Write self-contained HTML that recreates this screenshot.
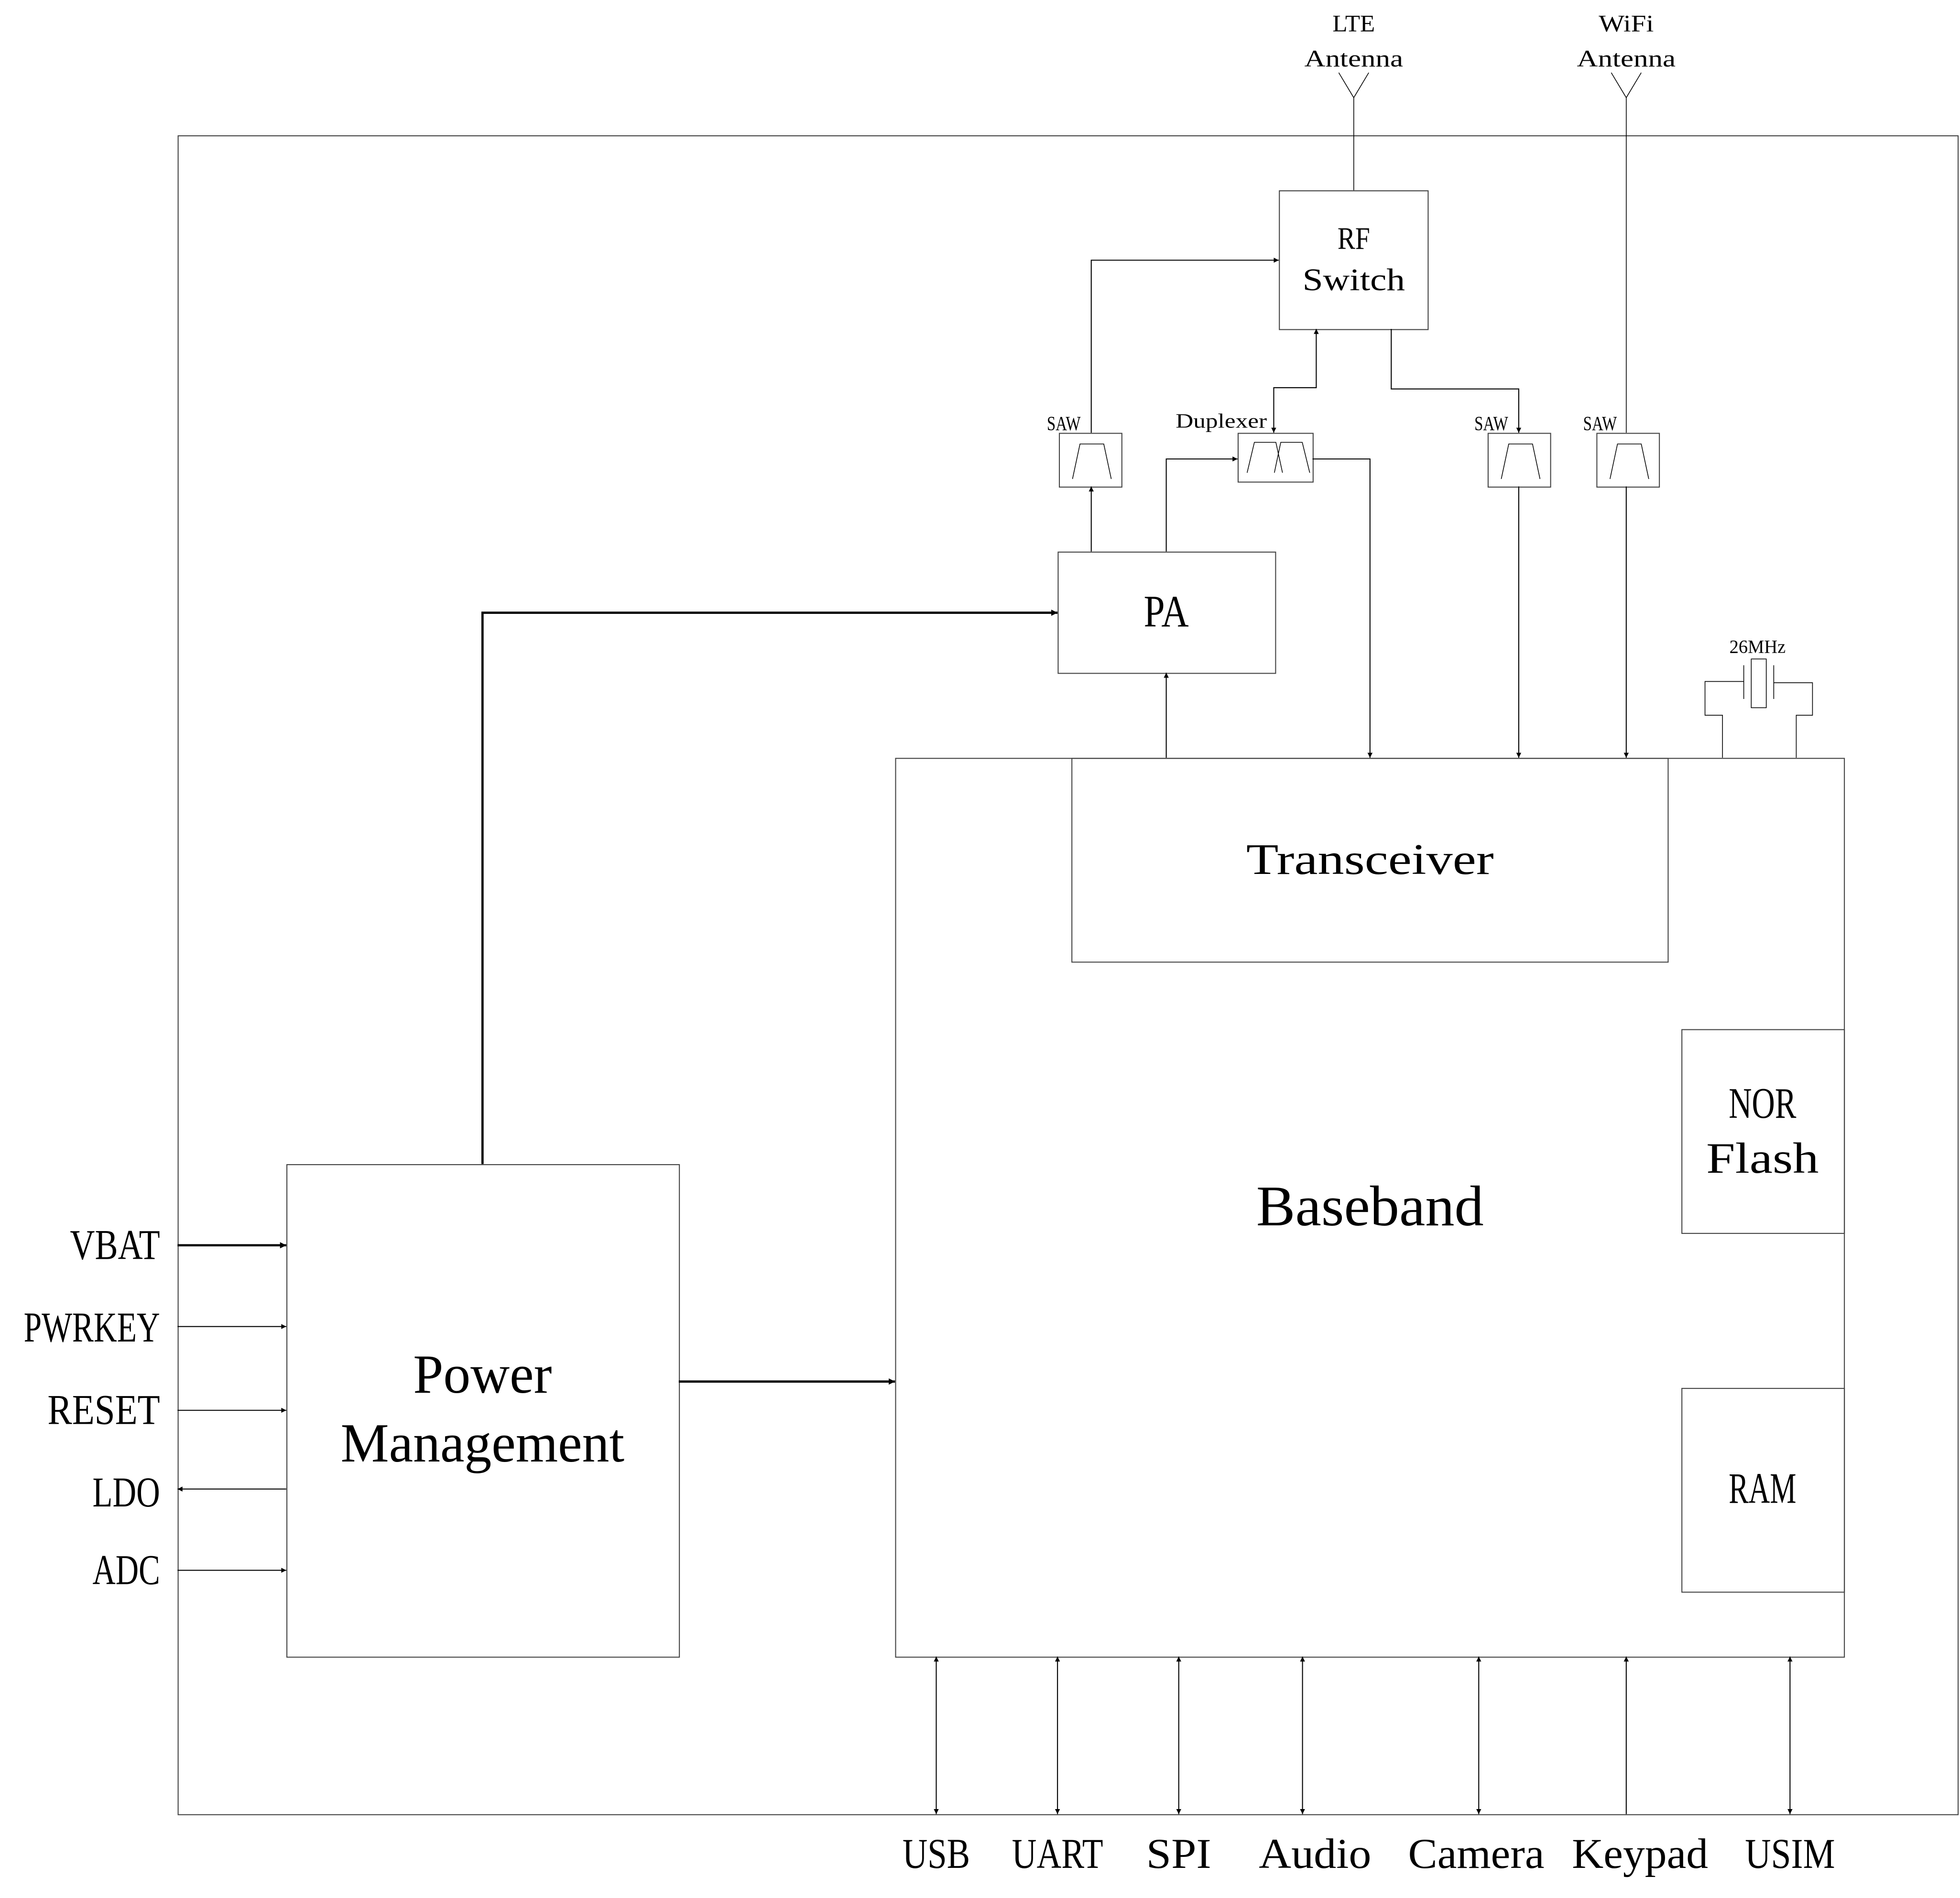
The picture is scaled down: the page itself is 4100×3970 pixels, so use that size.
<!DOCTYPE html>
<html><head><meta charset="utf-8"><style>html,body{margin:0;padding:0;background:#fff}svg{display:block}</style></head>
<body>
<svg width="4100" height="3970" viewBox="0 0 1568 1518" xmlns="http://www.w3.org/2000/svg" font-family="Liberation Serif, serif" fill="none" stroke="#000">
<defs>
<marker id="a" viewBox="0 0 10 10" refX="10" refY="5" markerWidth="6" markerHeight="4" orient="auto-start-reverse" markerUnits="userSpaceOnUse"><path d="M0,0L10,5L0,10z" fill="#000" stroke="none"/></marker>
<marker id="b" viewBox="0 0 10 10" refX="10" refY="5" markerWidth="9" markerHeight="5" orient="auto-start-reverse" markerUnits="userSpaceOnUse"><path d="M0,0L10,5L0,10z" fill="#000" stroke="none"/></marker>
</defs>
<g stroke-width="0.8" stroke="#444">
<rect x="142.5" y="108.5" width="1424" height="1343"/>
<rect x="229.5" y="931.5" width="314" height="394"/>
<rect x="716.5" y="606.5" width="759" height="719"/>
<rect x="857.5" y="606.5" width="477" height="163"/>
<rect x="1345.5" y="823.5" width="130" height="163"/>
<rect x="1345.5" y="1110.5" width="130" height="163"/>
<rect x="846.5" y="441.5" width="174" height="97"/>
<rect x="1023.5" y="152.5" width="119" height="111"/>
<rect x="847.5" y="346.5" width="50" height="43"/>
<rect x="990.5" y="346.5" width="60" height="39"/>
<rect x="1190.5" y="346.5" width="50" height="43"/>
<rect x="1277.5" y="346.5" width="50" height="43"/>
</g>
<g stroke-width="0.6">
<path d="M858,383L864,355H883L889,383"/>
<path d="M1201,383L1207,355H1226L1232,383"/>
<path d="M1288,383L1294,355H1313L1319,383"/>
<path d="M997.7,378L1003.5,353.7H1020.7L1026,378M1019.5,378L1024.6,353.7H1041.8L1047.8,378"/>
<!-- antennas -->
<path d="M1083,152V78M1071,58L1083,78L1095,58"/>
<path d="M1301,346V78M1289,58L1301,78L1313,58"/>
<!-- crystal -->
<rect x="1401" y="527" width="12" height="39"/>
<path d="M1395,532V559M1419,532V559"/>
<path d="M1378,606V572H1364V545H1395M1437,606V572H1450V546H1419"/>
</g>
<g stroke-width="0.8" marker-end="url(#a)">
<path d="M873,441V389"/>
<path d="M873,346V208H1023"/>
<path d="M933,441V367H990"/>
<path d="M1050,367H1096V606"/>
<path d="M1019,346V310H1053V263" marker-start="url(#a)"/>
<path d="M1113,263V311H1215V346"/>
<path d="M1215,389V606"/>
<path d="M1301,389V606"/>
<path d="M933,606V538"/>
<path d="M142,1061H229"/>
<path d="M142,1128H229"/>
<path d="M229,1191H142"/>
<path d="M142,1256H229"/>
<path d="M749,1451V1325" marker-start="url(#a)"/>
<path d="M846,1451V1325" marker-start="url(#a)"/>
<path d="M943,1451V1325" marker-start="url(#a)"/>
<path d="M1042,1451V1325" marker-start="url(#a)"/>
<path d="M1183,1451V1325" marker-start="url(#a)"/>
<path d="M1301,1451V1325"/>
<path d="M1432,1451V1325" marker-start="url(#a)"/>
</g>
<g stroke-width="1.8" marker-end="url(#b)">
<path d="M386,931V490H846"/>
<path d="M543,1105H716"/>
<path d="M142,996H229"/>
</g>
<g fill="#000" stroke="none" text-anchor="middle" lengthAdjust="spacingAndGlyphs">
<text x="386" y="1114" font-size="44" textLength="111" lengthAdjust="spacingAndGlyphs">Power</text>
<text x="386" y="1169" font-size="44" textLength="227" lengthAdjust="spacingAndGlyphs">Management</text>
<text x="1096" y="980" font-size="46" textLength="182" lengthAdjust="spacingAndGlyphs">Baseband</text>
<text x="1096" y="699" font-size="35" textLength="198" lengthAdjust="spacingAndGlyphs">Transceiver</text>
<text x="1410" y="894" font-size="35" textLength="54" lengthAdjust="spacingAndGlyphs">NOR</text>
<text x="1410" y="938" font-size="35" textLength="90" lengthAdjust="spacingAndGlyphs">Flash</text>
<text x="1410" y="1202" font-size="35" textLength="54" lengthAdjust="spacingAndGlyphs">RAM</text>
<text x="933" y="501" font-size="36" textLength="36" lengthAdjust="spacingAndGlyphs">PA</text>
<text x="1083" y="199" font-size="25" textLength="26" lengthAdjust="spacingAndGlyphs">RF</text>
<text x="1083" y="232" font-size="25" textLength="82" lengthAdjust="spacingAndGlyphs">Switch</text>
<text x="1083" y="25" font-size="19" textLength="34" lengthAdjust="spacingAndGlyphs">LTE</text>
<text x="1083" y="53" font-size="19" textLength="79" lengthAdjust="spacingAndGlyphs">Antenna</text>
<text x="1301" y="25" font-size="19" textLength="44" lengthAdjust="spacingAndGlyphs">WiFi</text>
<text x="1301" y="53" font-size="19" textLength="79" lengthAdjust="spacingAndGlyphs">Antenna</text>
<text x="977" y="342" font-size="16" textLength="73" lengthAdjust="spacingAndGlyphs">Duplexer</text>
<text x="851" y="344" font-size="16" textLength="27" lengthAdjust="spacingAndGlyphs">SAW</text>
<text x="1193" y="344" font-size="16" textLength="27" lengthAdjust="spacingAndGlyphs">SAW</text>
<text x="1280" y="344" font-size="16" textLength="27" lengthAdjust="spacingAndGlyphs">SAW</text>
<text x="1406" y="522" font-size="15" textLength="45" lengthAdjust="spacingAndGlyphs">26MHz</text>
<text x="749" y="1494" font-size="34" textLength="54" lengthAdjust="spacingAndGlyphs">USB</text>
<text x="846" y="1494" font-size="34" textLength="73" lengthAdjust="spacingAndGlyphs">UART</text>
<text x="943" y="1494" font-size="34" textLength="52" lengthAdjust="spacingAndGlyphs">SPI</text>
<text x="1052" y="1494" font-size="34" textLength="90" lengthAdjust="spacingAndGlyphs">Audio</text>
<text x="1181" y="1494" font-size="34" textLength="109" lengthAdjust="spacingAndGlyphs">Camera</text>
<text x="1312" y="1494" font-size="34" textLength="109" lengthAdjust="spacingAndGlyphs">Keypad</text>
<text x="1432" y="1494" font-size="34" textLength="72" lengthAdjust="spacingAndGlyphs">USIM</text>
</g>
<g fill="#000" stroke="none" text-anchor="end" font-size="34">
<text x="128" y="1007" textLength="72" lengthAdjust="spacingAndGlyphs">VBAT</text>
<text x="128" y="1073" textLength="109" lengthAdjust="spacingAndGlyphs">PWRKEY</text>
<text x="128" y="1139" textLength="90" lengthAdjust="spacingAndGlyphs">RESET</text>
<text x="128" y="1205" textLength="54" lengthAdjust="spacingAndGlyphs">LDO</text>
<text x="128" y="1267" textLength="54" lengthAdjust="spacingAndGlyphs">ADC</text>
</g>
</svg>
</body></html>
